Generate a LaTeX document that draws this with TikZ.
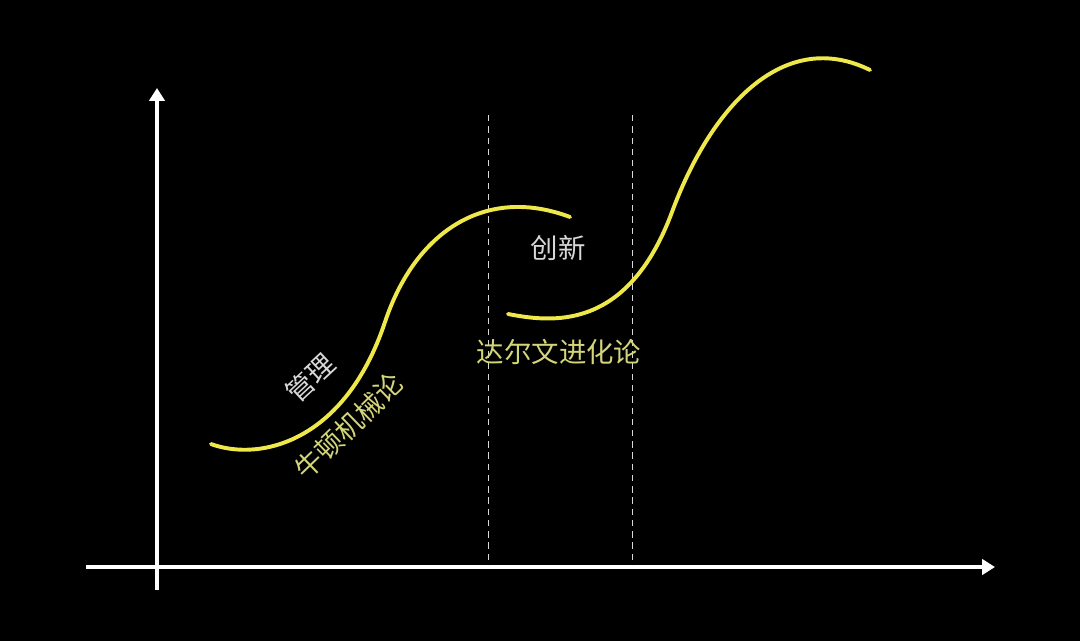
\documentclass[tikz,border=0pt]{standalone}
\usepackage{fontspec}
\setmainfont{Noto Sans CJK SC}
\usetikzlibrary{arrows.meta}
\definecolor{curveyellow}{HTML}{EEE84A}
\definecolor{theoryyellow}{HTML}{D4D57A}
\definecolor{palegray}{HTML}{D8D8D8}
\tikzset{
  axis/.style={white, line width=2.4pt, -{Triangle[length=3.2mm, width=3.8mm]}},
  phase/.style={palegray, line width=0.7pt, dash pattern=on 4.5pt off 3.5pt},
  scurve/.style={curveyellow, line width=2.8pt, line cap=round},
  stagelabel/.style={text=palegray, font=\fontsize{19.5}{20}\selectfont, inner sep=0pt},
  theorylabel/.style={text=theoryyellow, font=\fontsize{19.5}{20}\selectfont, inner sep=0pt}
}

\begin{document}
\begin{tikzpicture}[x=0.025cm, y=-0.025cm]
  \fill[black] (0,0) rectangle (1080,641);

  % axes
  \coordinate (ybot) at (157,590);
  \coordinate (ytop) at (157,88);
  \coordinate (xleft) at (86,567);
  \coordinate (xright) at (995,567);
  \draw[axis] (ybot) -- (ytop);
  \draw[axis] (xleft) -- (xright);

  % phase limits
  \coordinate (d1top) at (488,115);
  \coordinate (d1bot) at (488,565);
  \coordinate (d2top) at (632,115);
  \coordinate (d2bot) at (632,565);
  \draw[phase] (d1top) -- (d1bot);
  \draw[phase] (d2top) -- (d2bot);

  % first curve
  \coordinate (c1start) at (211,444);
  \coordinate (c1mid) at (385,322);
  \coordinate (c1end) at (570,217);
  \draw[scurve] (c1start) .. controls (260,462) and (345,442) .. (c1mid)
    .. controls (415,232) and (485,185) .. (c1end);

  % second curve
  \coordinate (c2start) at (508,314);
  \coordinate (c2mid) at (672,212);
  \coordinate (c2end) at (870,70);
  \draw[scurve] (c2start) .. controls (550,322) and (627,333) .. (c2mid)
    .. controls (712,104) and (785,28) .. (c2end);

  % labels
  \node[stagelabel, rotate=43] (mgmt) at (310,378) {管理};
  \node[theorylabel, rotate=44] (newton) at (349,426) {牛顿机械论};
  \node[stagelabel] (innov) at (558,248) {创新};
  \node[theorylabel] (darwin) at (559,352) {达尔文进化论};
\end{tikzpicture}
\end{document}
